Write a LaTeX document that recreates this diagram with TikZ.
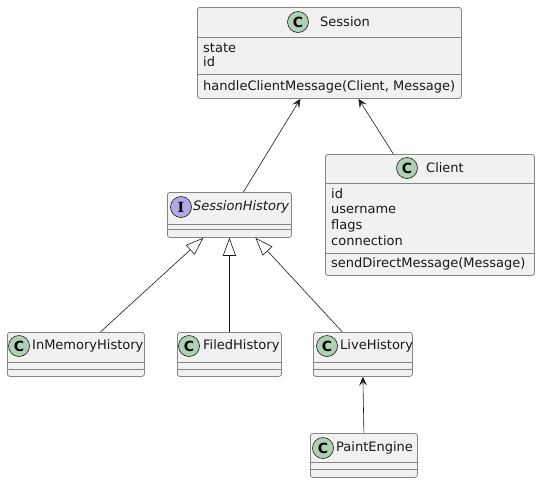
\documentclass[tikz,border=0pt]{standalone}
\usepackage{fontspec}
\setmainfont{DejaVu Sans}
\newfontfamily\iconfont{DejaVu Serif}
\usetikzlibrary{arrows.meta}
\definecolor{boxfill}{HTML}{F1F1F1}
\definecolor{boxline}{HTML}{181818}
\definecolor{boxedge}{HTML}{858585}
\definecolor{cgreen}{HTML}{ADD1B2}
\definecolor{ipurple}{HTML}{B4A7E5}
\tikzset{
  cls/.style={draw=boxedge, line width=0.8pt, fill=boxfill, rounded corners=2.5pt, anchor=north west, inner sep=0pt},
  sep/.style={draw=boxedge, line width=0.8pt},
  txt/.style={font=\fontsize{13}{15}\selectfont, text=boxline, inner sep=0pt, anchor=west},
  ttl/.style={font=\fontsize{13}{15}\selectfont, text=boxline, inner sep=0pt},
  cicon/.style={circle, draw=boxline, line width=0.6pt, fill=cgreen, minimum size=21pt, inner sep=0pt, font=\bfseries\fontsize{14}{14}\selectfont},
  iicon/.style={circle, draw=boxline, line width=0.6pt, fill=ipurple, minimum size=21pt, inner sep=0pt, font=\iconfont\bfseries\fontsize{14}{14}\selectfont},
  assoc/.style={draw=boxline, line width=0.6pt, -{Stealth[length=9pt, width=8pt, inset=4pt]}},
  gen/.style={draw=boxline, line width=0.6pt, -{Triangle[open, length=18pt, width=13pt, fill=white]}},
}
\begin{document}
\begin{tikzpicture}[x=1pt, y=-1pt]
\useasboundingbox (0,0) rectangle (540,483);
% Session
\node[cls, minimum width=264pt, minimum height=91pt] (session) at (197,7) {};
\draw[sep] (197,37) -- (461,37);
\draw[sep] (197,74) -- (461,74);
\node[cicon] (sessionicon) at (298,22) {C};
\node[ttl] (sessiontitle) at (345,22) {Session};
\node[txt] (sessionstate) at (203,48) {state};
\node[txt] (sessionid) at (203,62) {id};
\node[txt] (sessionhandle) at (203,87) {handleClientMessage(Client, Message)};
% Client
\node[cls, minimum width=209pt, minimum height=121pt] (client) at (325,154) {};
\draw[sep] (325,183) -- (534,183);
\draw[sep] (325,253) -- (534,253);
\node[cicon] (clienticon) at (407,168) {C};
\node[ttl] (clienttitle) at (445,168) {Client};
\node[txt] (clientid) at (331,194) {id};
\node[txt] (clientuser) at (331,210) {username};
\node[txt] (clientflags) at (331,226) {flags};
\node[txt] (clientconn) at (331,241) {connection};
\node[txt] (clientsend) at (331,264) {sendDirectMessage(Message)};
% SessionHistory
\node[cls, minimum width=124pt, minimum height=45pt] (sh) at (167,192) {};
\draw[sep] (167,224) -- (291,224);
\draw[sep] (167,229) -- (291,229);
\node[iicon] (shicon) at (181,207) {I};
\node[txt, font=\fontsize{13}{15}\selectfont\itshape] (shtitle) at (193,207) {SessionHistory};
% InMemoryHistory
\node[cls, minimum width=137pt, minimum height=44pt] (inmem) at (7,332) {};
\draw[sep] (7,362) -- (144,362);
\draw[sep] (7,369) -- (144,369);
\node[cicon] (inmemicon) at (19,346) {C};
\node[txt] (inmemtitle) at (32,346) {InMemoryHistory};
% FiledHistory
\node[cls, minimum width=104pt, minimum height=44pt] (filed) at (177,332) {};
\draw[sep] (177,362) -- (281,362);
\draw[sep] (177,369) -- (281,369);
\node[cicon] (filedicon) at (189,346) {C};
\node[txt] (filedtitle) at (203,346) {FiledHistory};
% LiveHistory
\node[cls, minimum width=99pt, minimum height=44pt] (live) at (313,332) {};
\draw[sep] (313,362) -- (412,362);
\draw[sep] (313,369) -- (412,369);
\node[cicon] (liveicon) at (327,346) {C};
\node[txt] (livetitle) at (340,346) {LiveHistory};
% PaintEngine
\node[cls, minimum width=107pt, minimum height=44pt] (paint) at (310,433) {};
\draw[sep] (310,462) -- (417,462);
\draw[sep] (310,469) -- (417,469);
\node[cicon] (painticon) at (323,448) {C};
\node[txt] (painttitle) at (336,448) {PaintEngine};
% connectors
\draw[assoc] ([xshift=14pt]sh.north) -- ([xshift=-29pt]session.south);
\draw[assoc] ([xshift=-36.5pt]client.north) -- ([xshift=29pt]session.south);
\draw[gen] ([xshift=24.5pt]inmem.north) -- ([xshift=-26pt]sh.south);
\draw[gen] (filed.north) -- (sh.south);
\draw[gen] ([xshift=-20.5pt]live.north) -- ([xshift=26pt]sh.south);
\draw[assoc] (paint.north) -- (live.south);
\end{tikzpicture}
\end{document}
